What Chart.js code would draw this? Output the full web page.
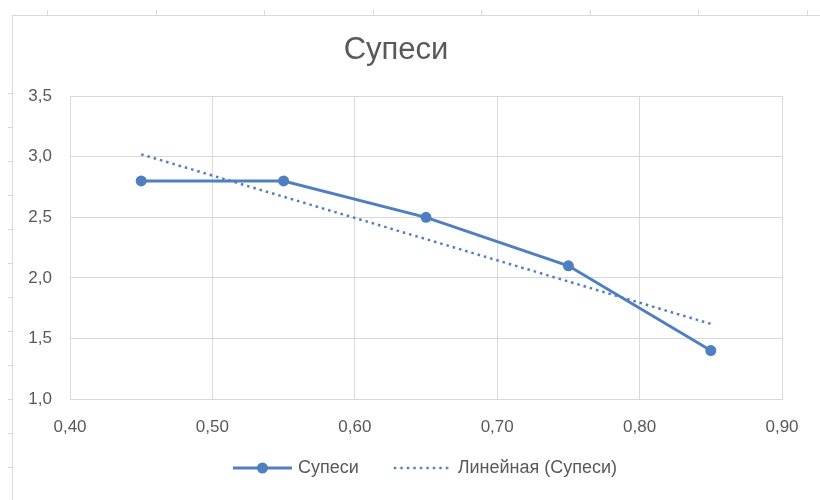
<!DOCTYPE html>
<html>
<head>
<meta charset="utf-8">
<script src="https://cdn.jsdelivr.net/npm/chart.js@4"></script>
<style>
  body { margin: 0; background: #fff; }
  .sheet { position: absolute; left: 0; top: 0; width: 820px; height: 500px; overflow: hidden; }
  .frame { position: absolute; left: 12px; top: 15px; width: 820px; height: 490px;
           border-left: 1px solid #d9d9d9; border-top: 1px solid #d9d9d9; }
  .tick { position: absolute; background: #d9d9d9; }
  canvas { position: absolute; left: 0; top: 0; }
</style>
</head>
<body>
<div class="sheet" id="sheet">
  <div class="frame"></div>
  <canvas id="supesi-chart" width="820" height="500"></canvas>
</div>
<script>
const ctx = document.getElementById("supesi-chart");
const sheetEl = document.getElementById("sheet");

// data
const xValues = [0.45, 0.55, 0.65, 0.75, 0.85];
const yValues = [2.8, 2.8, 2.5, 2.1, 1.4];
const trendX = [0.45, 0.85];
const trendY = [3.02, 1.62];
const seriesName = "Супеси";
const trendName = "Линейная (Супеси)";

const blue = "#4f7fc1";
const textColor = "#595959";
const gridColor = "#d9d9d9";
const font = "Liberation Sans";

// spreadsheet cell marks behind the chart
for (let i = 0; i < 8; i++) {
  const t = document.createElement("div");
  t.className = "tick";
  t.style.left = (47 + i * 108.5) + "px";
  t.style.top = "10px";
  t.style.width = "1px";
  t.style.height = "5px";
  sheetEl.insertBefore(t, ctx);
}
for (let i = 0; i < 12; i++) {
  const t = document.createElement("div");
  t.className = "tick";
  t.style.left = "8px";
  t.style.top = (93 + i * 34) + "px";
  t.style.width = "4px";
  t.style.height = "1px";
  sheetEl.insertBefore(t, ctx);
}

// legend icons: canvas is 6px wider than the legend box so the line
// reaches closer to the text
function makeIcon(dotted) {
  const c = document.createElement("canvas");
  c.width = 78;
  c.height = 14;
  const g = c.getContext("2d");
  g.strokeStyle = blue;
  g.fillStyle = blue;
  if (dotted) {
    g.lineWidth = 2.5;
    g.setLineDash([2.5, 4]);
    g.beginPath();
    g.moveTo(20, 7);
    g.lineTo(78, 7);
    g.stroke();
  } else {
    g.lineWidth = 3;
    g.beginPath();
    g.moveTo(19, 7);
    g.lineTo(78, 7);
    g.stroke();
    g.beginPath();
    g.arc(48.5, 7, 5.5, 0, Math.PI * 2);
    g.fill();
  }
  return c;
}
const seriesIcon = makeIcon(false);
const trendIcon = makeIcon(true);

// nudge the legend a bit to the left
const legendShift = {
  id: "legendShift",
  afterLayout(chart) {
    chart.legend.left -= 9;
    chart.legend.right -= 9;
  },
};

new Chart(ctx, {
  type: "scatter",
  data: {
    datasets: [
      {
        label: seriesName,
        data: xValues.map((x, i) => ({ x: x, y: yValues[i] })),
        showLine: true,
        borderColor: blue,
        backgroundColor: blue,
        borderWidth: 3,
        pointRadius: 5.5,
        pointHoverRadius: 5.5,
        pointBorderWidth: 0,
        pointStyle: "circle",
      },
      {
        label: trendName,
        data: trendX.map((x, i) => ({ x: x, y: trendY[i] })),
        showLine: true,
        borderColor: blue,
        borderWidth: 2.5,
        borderDash: [2.5, 4],
        pointRadius: 0,
      },
    ],
  },
  plugins: [legendShift],
  options: {
    responsive: false,
    animation: false,
    layout: {
      padding: { left: 10, right: 38, top: 0, bottom: 13 },
    },
    scales: {
      x: {
        type: "linear",
        min: 0.4,
        max: 0.9,
        afterFit: (s) => { s.height = 42; },
        ticks: {
          stepSize: 0.1,
          color: textColor,
          font: { family: font, size: 17 },
          padding: 18,
          callback: (v) => v.toFixed(2).replace(".", ","),
        },
        grid: { color: gridColor, drawTicks: false },
        border: { color: gridColor },
      },
      y: {
        min: 1,
        max: 3.5,
        afterFit: (s) => { s.width = 60; },
        ticks: {
          stepSize: 0.5,
          color: textColor,
          font: { family: font, size: 17 },
          padding: 18,
          callback: (v) => v.toFixed(1).replace(".", ","),
        },
        grid: { color: gridColor, drawTicks: false },
        border: { color: gridColor },
      },
    },
    plugins: {
      title: {
        display: true,
        text: "Супеси",
        color: textColor,
        font: { family: font, size: 31, weight: "normal", lineHeight: 1.2 },
        padding: { top: 32, bottom: 27 },
      },
      legend: {
        position: "bottom",
        fullSize: false,
        labels: {
          usePointStyle: true,
          pointStyleWidth: 72,
          boxHeight: 14,
          color: textColor,
          font: { family: font, size: 18 },
          padding: 18,
          generateLabels: (chart) =>
            chart.data.datasets.map((ds, i) => ({
              text: ds.label,
              pointStyle: i === 0 ? seriesIcon : trendIcon,
              fontColor: textColor,
              datasetIndex: i,
              lineWidth: 0,
            })),
        },
      },
      tooltip: { enabled: false },
    },
  },
});
</script>
</body>
</html>
